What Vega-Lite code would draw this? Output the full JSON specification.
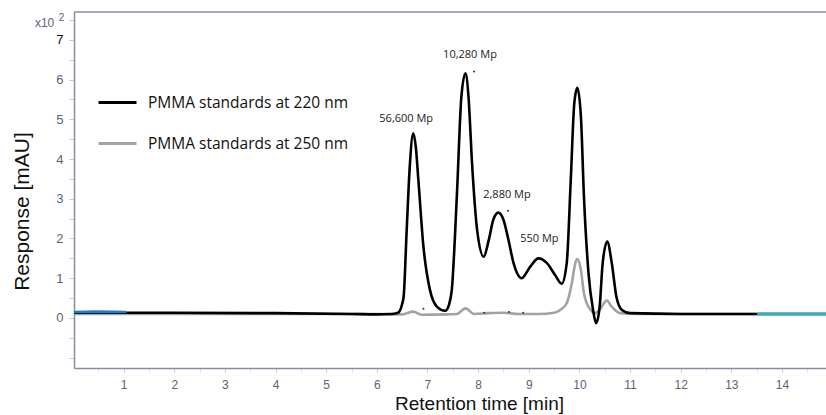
{
  "$schema": "https://vega.github.io/schema/vega-lite/v6.json",
  "width": 752,
  "height": 356,
  "autosize": {"type": "none"},
  "padding": {"left": 74, "top": 12, "right": 0, "bottom": 47},
  "background": "white",
  "config": {
    "view": {"stroke": null},
    "axis": {"grid": false}
  },
  "datasets": {
    "curves": [
      {"s": "PMMA standards at 250 nm", "t": 0.02, "r": 0.1},
      {"s": "PMMA standards at 250 nm", "t": 6.0, "r": 0.1},
      {"s": "PMMA standards at 250 nm", "t": 6.5, "r": 0.09},
      {"s": "PMMA standards at 250 nm", "t": 6.72, "r": 0.16},
      {"s": "PMMA standards at 250 nm", "t": 6.88, "r": 0.08},
      {"s": "PMMA standards at 250 nm", "t": 7.4, "r": 0.09},
      {"s": "PMMA standards at 250 nm", "t": 7.58, "r": 0.1},
      {"s": "PMMA standards at 250 nm", "t": 7.75, "r": 0.24},
      {"s": "PMMA standards at 250 nm", "t": 7.92, "r": 0.1},
      {"s": "PMMA standards at 250 nm", "t": 8.2, "r": 0.12},
      {"s": "PMMA standards at 250 nm", "t": 8.5, "r": 0.13},
      {"s": "PMMA standards at 250 nm", "t": 8.8, "r": 0.1},
      {"s": "PMMA standards at 250 nm", "t": 9.2, "r": 0.1},
      {"s": "PMMA standards at 250 nm", "t": 9.5, "r": 0.13},
      {"s": "PMMA standards at 250 nm", "t": 9.62, "r": 0.2},
      {"s": "PMMA standards at 250 nm", "t": 9.75, "r": 0.37},
      {"s": "PMMA standards at 250 nm", "t": 9.85, "r": 0.87},
      {"s": "PMMA standards at 250 nm", "t": 9.92, "r": 1.38},
      {"s": "PMMA standards at 250 nm", "t": 9.96, "r": 1.48},
      {"s": "PMMA standards at 250 nm", "t": 10.03, "r": 1.21},
      {"s": "PMMA standards at 250 nm", "t": 10.09, "r": 0.62},
      {"s": "PMMA standards at 250 nm", "t": 10.2, "r": 0.24},
      {"s": "PMMA standards at 250 nm", "t": 10.31, "r": 0.12},
      {"s": "PMMA standards at 250 nm", "t": 10.41, "r": 0.22},
      {"s": "PMMA standards at 250 nm", "t": 10.54, "r": 0.44},
      {"s": "PMMA standards at 250 nm", "t": 10.64, "r": 0.28},
      {"s": "PMMA standards at 250 nm", "t": 10.81, "r": 0.12},
      {"s": "PMMA standards at 250 nm", "t": 11.2, "r": 0.1},
      {"s": "PMMA standards at 250 nm", "t": 14.87, "r": 0.1},

      {"s": "PMMA standards at 220 nm", "t": 0.02, "r": 0.13},
      {"s": "PMMA standards at 220 nm", "t": 2.0, "r": 0.13},
      {"s": "PMMA standards at 220 nm", "t": 4.0, "r": 0.12},
      {"s": "PMMA standards at 220 nm", "t": 5.5, "r": 0.1},
      {"s": "PMMA standards at 220 nm", "t": 6.0, "r": 0.09},
      {"s": "PMMA standards at 220 nm", "t": 6.3, "r": 0.1},
      {"s": "PMMA standards at 220 nm", "t": 6.42, "r": 0.13},
      {"s": "PMMA standards at 220 nm", "t": 6.5, "r": 0.35},
      {"s": "PMMA standards at 220 nm", "t": 6.53, "r": 0.54},
      {"s": "PMMA standards at 220 nm", "t": 6.59, "r": 2.22},
      {"s": "PMMA standards at 220 nm", "t": 6.65, "r": 3.8},
      {"s": "PMMA standards at 220 nm", "t": 6.72, "r": 4.65},
      {"s": "PMMA standards at 220 nm", "t": 6.77, "r": 4.3},
      {"s": "PMMA standards at 220 nm", "t": 6.82, "r": 3.48},
      {"s": "PMMA standards at 220 nm", "t": 6.92, "r": 1.8},
      {"s": "PMMA standards at 220 nm", "t": 7.05, "r": 0.7},
      {"s": "PMMA standards at 220 nm", "t": 7.19, "r": 0.28},
      {"s": "PMMA standards at 220 nm", "t": 7.35, "r": 0.18},
      {"s": "PMMA standards at 220 nm", "t": 7.43, "r": 0.35},
      {"s": "PMMA standards at 220 nm", "t": 7.48, "r": 0.7},
      {"s": "PMMA standards at 220 nm", "t": 7.58, "r": 3.06},
      {"s": "PMMA standards at 220 nm", "t": 7.67, "r": 5.57},
      {"s": "PMMA standards at 220 nm", "t": 7.75, "r": 6.16},
      {"s": "PMMA standards at 220 nm", "t": 7.81, "r": 5.57},
      {"s": "PMMA standards at 220 nm", "t": 7.88, "r": 3.9},
      {"s": "PMMA standards at 220 nm", "t": 7.98, "r": 2.22},
      {"s": "PMMA standards at 220 nm", "t": 8.11, "r": 1.54},
      {"s": "PMMA standards at 220 nm", "t": 8.21, "r": 1.96},
      {"s": "PMMA standards at 220 nm", "t": 8.3, "r": 2.47},
      {"s": "PMMA standards at 220 nm", "t": 8.4, "r": 2.65},
      {"s": "PMMA standards at 220 nm", "t": 8.5, "r": 2.47},
      {"s": "PMMA standards at 220 nm", "t": 8.6, "r": 1.96},
      {"s": "PMMA standards at 220 nm", "t": 8.7, "r": 1.38},
      {"s": "PMMA standards at 220 nm", "t": 8.86, "r": 1.0},
      {"s": "PMMA standards at 220 nm", "t": 9.03, "r": 1.29},
      {"s": "PMMA standards at 220 nm", "t": 9.19, "r": 1.5},
      {"s": "PMMA standards at 220 nm", "t": 9.36, "r": 1.38},
      {"s": "PMMA standards at 220 nm", "t": 9.52, "r": 1.08},
      {"s": "PMMA standards at 220 nm", "t": 9.65, "r": 0.86},
      {"s": "PMMA standards at 220 nm", "t": 9.75, "r": 1.38},
      {"s": "PMMA standards at 220 nm", "t": 9.83, "r": 3.48},
      {"s": "PMMA standards at 220 nm", "t": 9.9, "r": 5.41},
      {"s": "PMMA standards at 220 nm", "t": 9.96, "r": 5.79},
      {"s": "PMMA standards at 220 nm", "t": 10.03, "r": 5.07},
      {"s": "PMMA standards at 220 nm", "t": 10.09, "r": 3.06},
      {"s": "PMMA standards at 220 nm", "t": 10.18, "r": 1.13},
      {"s": "PMMA standards at 220 nm", "t": 10.27, "r": 0.2},
      {"s": "PMMA standards at 220 nm", "t": 10.33, "r": -0.13},
      {"s": "PMMA standards at 220 nm", "t": 10.4, "r": 0.28},
      {"s": "PMMA standards at 220 nm", "t": 10.46, "r": 1.38},
      {"s": "PMMA standards at 220 nm", "t": 10.55, "r": 1.92},
      {"s": "PMMA standards at 220 nm", "t": 10.64, "r": 1.38},
      {"s": "PMMA standards at 220 nm", "t": 10.73, "r": 0.54},
      {"s": "PMMA standards at 220 nm", "t": 10.84, "r": 0.2},
      {"s": "PMMA standards at 220 nm", "t": 11.0, "r": 0.12},
      {"s": "PMMA standards at 220 nm", "t": 12.0, "r": 0.1},
      {"s": "PMMA standards at 220 nm", "t": 13.0, "r": 0.1},
      {"s": "PMMA standards at 220 nm", "t": 14.87, "r": 0.1},

      {"s": "start marker", "t": 0.02, "r": 0.15},
      {"s": "start marker", "t": 0.5, "r": 0.16},
      {"s": "start marker", "t": 1.05, "r": 0.15},

      {"s": "end marker", "t": 13.51, "r": 0.1},
      {"s": "end marker", "t": 14.87, "r": 0.1}
    ],
    "labels": [
      {"t": 6.58, "r": 5.01, "txt": "56,600 Mp"},
      {"t": 7.84, "r": 6.62, "txt": "10,280 Mp"},
      {"t": 8.57, "r": 3.1, "txt": "2,880 Mp"},
      {"t": 9.21, "r": 1.99, "txt": "550 Mp"}
    ],
    "dots": [
      {"t": 7.92, "r": 6.2},
      {"t": 8.59, "r": 2.7},
      {"t": 6.92, "r": 0.23},
      {"t": 8.12, "r": 0.13},
      {"t": 8.61, "r": 0.15},
      {"t": 8.89, "r": 0.13}
    ],
    "frame": [{"r": 7.7}],
    "mult": [
      {"t": -0.37, "r": 7.43, "txt": "x10", "sz": 12},
      {"t": -0.17, "r": 7.55, "txt": "2", "sz": 10}
    ]
  },
  "encoding": {
    "x": {
      "field": "t", "type": "quantitative",
      "scale": {"domain": [0.02, 14.87], "nice": false, "zero": false},
      "axis": {
        "title": "Retention time [min]",
        "values": [0.5,1,1.5,2,2.5,3,3.5,4,4.5,5,5.5,6,6.5,7,7.5,8,8.5,9,9.5,10,10.5,11,11.5,12,12.5,13,13.5,14,14.5],
        "labelExpr": "datum.value % 1 === 0 ? format(datum.value, 'd') : ''",
        "domainColor": "#878ca0", "domainWidth": 1.5,
        "tickColor": {"condition": {"test": "datum.value % 1 === 0", "value": "#c4c8d2"}, "value": "#e3e5ea"},
        "tickSize": 4,
        "labelFont": "Liberation Sans", "labelFontSize": 12, "labelColor": "#5b6377",
        "labelPadding": 7,
        "titleFont": "Liberation Sans", "titleFontSize": 19, "titleFontWeight": "normal", "titleColor": "#111",
        "titleX": 405, "titlePadding": 4
      }
    },
    "y": {
      "field": "r", "type": "quantitative",
      "scale": {"domain": [-1.26, 7.7], "nice": false, "zero": false},
      "axis": {
        "title": "Response [mAU]",
        "values": [-1,-0.5,0,0.5,1,1.5,2,2.5,3,3.5,4,4.5,5,5.5,6,6.5,7,7.5],
        "labelExpr": "datum.value % 1 === 0 && datum.value >= 0 ? format(datum.value, 'd') : ''",
        "domainColor": "#878ca0", "domainWidth": 1.5,
        "tickColor": "#c4c8d2", "tickSize": 5,
        "labelFont": "Liberation Sans", "labelFontSize": 13,
        "labelColor": {"condition": {"test": "datum.value === 7", "value": "#111"}, "value": "#5b6377"},
        "labelPadding": 6,
        "titleFont": "Liberation Sans", "titleFontSize": 21, "titleFontWeight": "normal", "titleColor": "#111",
        "titlePadding": 23, "titleY": 199
      }
    }
  },
  "layer": [
    {
      "data": {"name": "frame"},
      "mark": {"type": "rule", "color": "#878ca0", "strokeWidth": 1.5},
      "encoding": {"y": {"field": "r", "type": "quantitative"}, "x": {"value": 0}, "x2": {"value": 752}}
    },
    {
      "data": {"name": "curves"},
      "transform": [{"filter": "datum.s === 'PMMA standards at 250 nm'"}],
      "mark": {"type": "line", "strokeWidth": 2.6, "interpolate": "monotone"},
      "encoding": {
        "stroke": {
          "field": "s", "type": "nominal",
          "scale": {
            "domain": ["PMMA standards at 220 nm", "PMMA standards at 250 nm", "start marker", "end marker"],
            "range": ["#000000", "#a3a3a3", "#1f7cc8", "#22b8c2"]
          },
          "legend": {
            "values": ["PMMA standards at 220 nm", "PMMA standards at 250 nm"],
            "orient": "none", "legendX": 23, "legendY": 70,
            "title": null, "padding": 0,
            "symbolType": "stroke", "symbolSize": 1444, "symbolStrokeWidth": 3,
            "labelFont": "Open Sans", "labelFontSize": 15.5, "labelColor": "#111",
            "labelOffset": 10, "rowPadding": 12, "labelLimit": 400
          }
        }
      }
    },
    {
      "data": {"name": "curves"},
      "transform": [{"filter": "datum.s === 'PMMA standards at 220 nm'"}],
      "mark": {"type": "line", "strokeWidth": 2.6, "interpolate": "monotone"},
      "encoding": {"stroke": {"field": "s", "type": "nominal"}}
    },
    {
      "data": {"name": "curves"},
      "transform": [{"filter": "datum.s === 'start marker' || datum.s === 'end marker'"}],
      "mark": {"type": "line", "strokeWidth": 2.6},
      "encoding": {"stroke": {"field": "s", "type": "nominal"}}
    },
    {
      "data": {"name": "dots"},
      "mark": {"type": "point", "filled": true, "size": 4, "color": "#2b3560", "opacity": 1},
      "encoding": {}
    },
    {
      "data": {"name": "labels"},
      "mark": {"type": "text", "font": "Open Sans", "fontSize": 11, "color": "#222"},
      "encoding": {"text": {"field": "txt"}}
    },
    {
      "data": {"name": "mult"},
      "mark": {"type": "text", "font": "Liberation Sans", "color": "#5b6377", "align": "right"},
      "encoding": {"text": {"field": "txt"}, "size": {"field": "sz", "type": "quantitative", "scale": null}}
    }
  ]
}
